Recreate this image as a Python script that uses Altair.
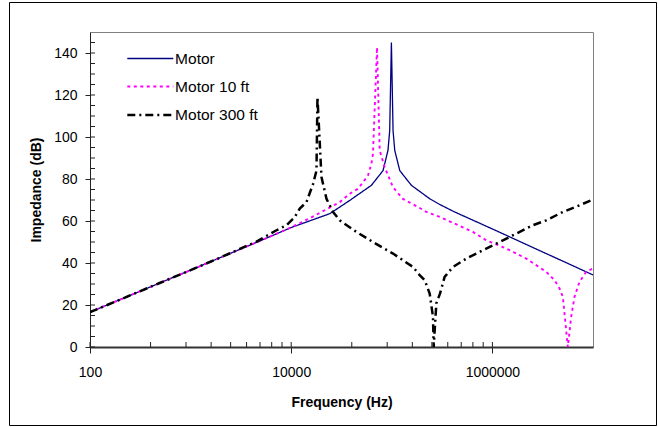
import altair as alt
import pandas as pd

# ---- data ----
series_names = ["Motor", "Motor 10 ft", "Motor 300 ft"]

motor_freq = [100, 200, 500, 1000, 2000, 5000, 10000, 24200, 38200, 62700, 81800,
              91600, 95300, 99100, 102900, 107000, 120000, 156500, 239800, 301800,
              421700, 1000000, 2000000, 5000000, 10000000]
motor_db = [16.6, 22.6, 30.6, 36.6, 42.7, 50.7, 56.9, 63.5, 69.8, 77.0, 84.0,
            93.6, 103.0, 145.0, 103.0, 93.6, 84.0, 77.0, 70.5, 67.8,
            64.3, 56.2, 49.6, 40.9, 34.3]

m10_freq = [100, 200, 500, 1000, 2000, 5000, 10000, 15300, 30400, 38200, 46200,
            51800, 58000, 62700, 65000, 71300, 75800, 85000, 102800, 129000,
            182000, 220600, 301800, 640000, 869000, 1374000, 2172000, 3430000,
            4150000, 4650000, 5015000, 5620000, 6070000, 6550000, 7340000,
            8560000, 10000000]
m10_db = [16.6, 22.6, 30.6, 36.6, 42.7, 50.7, 57.0, 61.3, 69.0, 73.0, 75.4,
          78.5, 81.7, 87.3, 92.0, 142.7, 93.6, 85.6, 76.1, 70.5,
          66.7, 64.3, 61.9, 54.8, 50.8, 46.9, 42.1, 35.8,
          31.8, 27.9, 23.9, 0.0, 14.4, 23.9, 31.0,
          35.8, 37.4]

m300_freq = [100, 200, 500, 1000, 2000, 4520, 7150, 8980, 10860, 12170, 14190,
             16500, 17830, 18240, 20000, 22430, 26080, 30400, 44500, 65000,
             102800, 162500, 189200, 212300, 237900, 256600, 260700, 277300,
             301800, 335000, 405600, 550800, 805500, 1180000, 1727000, 2525000,
             3430000, 5015000, 7340000, 10000000]
m300_db = [16.6, 22.6, 30.6, 36.6, 42.7, 50.2, 55.6, 58.0, 61.9, 65.9, 69.0,
           77.7, 84.0, 119.0, 80.9, 70.6, 64.3, 60.3, 54.8, 50.0,
           44.5, 38.1, 34.2, 31.8, 25.5, 14.4, 0.0, 20.8,
           25.5, 33.4, 38.1, 42.1, 46.1, 50.0, 54.0, 58.0,
           60.3, 64.3, 67.5, 70.2]

x_label_ticks = [100, 10000, 1000000]
x_minor_ticks = [400, 900, 1600, 2500, 3600, 4900, 6400, 8100,
                 40000, 90000, 160000, 250000, 360000, 490000, 640000, 810000]
y_label_ticks = [0, 20, 40, 60, 80, 100, 120, 140]
y_minor_ticks = [5, 10, 15, 25, 30, 35, 45, 50, 55, 65, 70, 75, 85, 90, 95,
                 105, 110, 115, 125, 130, 135, 145]

rows = []
for name, fs, vs in [(series_names[0], motor_freq, motor_db),
                     (series_names[1], m10_freq, m10_db),
                     (series_names[2], m300_freq, m300_db)]:
    for i, (f, v) in enumerate(zip(fs, vs)):
        rows.append({"series": name, "f": f, "db": v, "i": i})
df = pd.DataFrame(rows)

W, H = 503, 315
FONT = "Liberation Sans"

xscale = alt.Scale(type="log", domain=[100, 10000000], nice=False)
yscale = alt.Scale(domain=[0, 150], nice=False)

x_axis = alt.Axis(values=x_label_ticks, format="d", title="Frequency (Hz)",
                  grid=False, tickSize=6, tickColor="#222", domainColor="#333",
                  domainWidth=2, labelFont=FONT, labelFontSize=14,
                  labelColor="black", labelPadding=12, labelFlush=False,
                  titleFont=FONT, titleFontSize=14, titleFontWeight="bold",
                  titleColor="black", titleBaseline="alphabetic",
                  titleY=59.5, titleX=W / 2)
y_axis = alt.Axis(values=y_label_ticks, format="d", title="Impedance (dB)",
                  grid=False, tickSize=5, tickColor="#222", domainColor="#222",
                  domainWidth=1, labelFont=FONT, labelFontSize=14,
                  labelColor="black", labelPadding=8,
                  titleFont=FONT, titleFontSize=14, titleFontWeight="bold",
                  titleColor="black", titleX=-54, titleY=H / 2,
                  titleBaseline="middle", titleAngle=270)

# legend line: a wide custom stroke path on a small symbol box so rows stay tight
legend = alt.Legend(
    orient="none", legendX=51.3, legendY=18, title=None,
    symbolType="M-3,0L3,0", symbolSize=235, labelFontSize=15.5, labelFont=FONT,
    labelColor="black", labelOffset=15.8, rowPadding=10.5, padding=0,
)

lines = alt.Chart(df).mark_line(clip=True, strokeCap="butt").encode(
    x=alt.X("f:Q", scale=xscale, axis=x_axis),
    y=alt.Y("db:Q", scale=yscale, axis=y_axis),
    color=alt.Color("series:N",
                    scale=alt.Scale(domain=series_names,
                                    range=["#000080", "#FF00FF", "#000000"]),
                    legend=legend),
    strokeDash=alt.StrokeDash("series:N",
                              scale=alt.Scale(domain=series_names,
                                              range=[[1, 0], [3, 3.5], [8, 4, 2, 4]]),
                              legend=legend),
    strokeWidth=alt.StrokeWidth("series:N",
                                scale=alt.Scale(domain=series_names,
                                                range=[1.3, 2.5, 2.0]),
                                legend=legend),
    order="i:Q",
)

xt = pd.DataFrame({"f": x_label_ticks + x_minor_ticks})
xtick_layer = alt.Chart(xt).mark_rule(color="#222", strokeWidth=1).encode(
    x=alt.X("f:Q", scale=xscale, axis=x_axis),
    y=alt.value(H), y2=alt.value(H - 5),
)

yt = pd.DataFrame({"db": y_label_ticks + y_minor_ticks})
ytick_layer = alt.Chart(yt).mark_rule(color="#222", strokeWidth=1).encode(
    y=alt.Y("db:Q", scale=yscale, axis=y_axis),
    x=alt.value(0), x2=alt.value(5),
)

frame = alt.Chart(alt.Data(values=[{"a": 1}])).mark_rect(
    filled=False, color="black", strokeWidth=1, clip=False
).encode(
    x=alt.value(-80.5), x2=alt.value(566.5), y=alt.value(-29.5), y2=alt.value(393.5)
)

chart = alt.layer(lines, xtick_layer, ytick_layer, frame).properties(
    width=W, height=H,
    autosize=alt.AutoSizeParams(type="none"),
    padding={"left": 90, "top": 32, "right": 65, "bottom": 80},
    background="white",
).configure_view(stroke="#808080", strokeWidth=1)

chart.save("out.html", embed_options={"renderer": "svg", "actions": False})
